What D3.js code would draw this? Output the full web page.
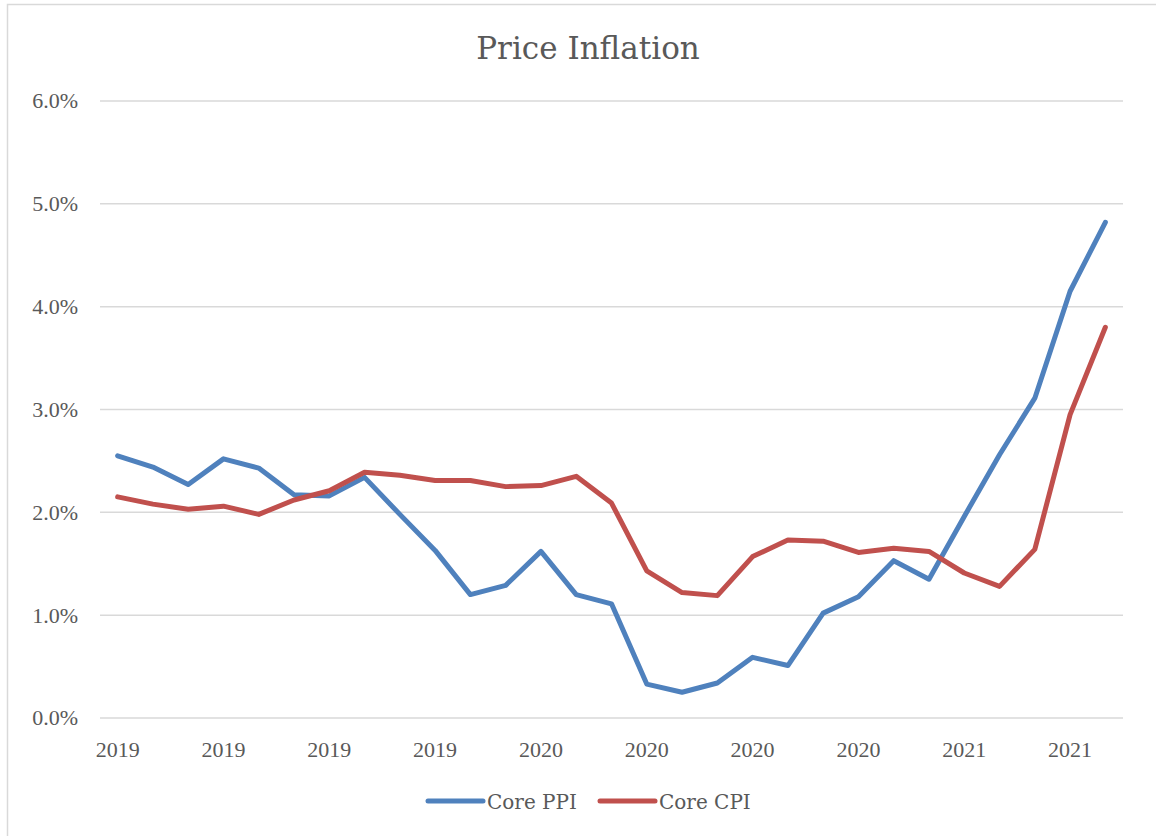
<!DOCTYPE html>
<html>
<head>
<meta charset="utf-8">
<script src="https://cdn.jsdelivr.net/npm/d3@7"></script>
<style>
  body { margin: 0; background: #fff; }
  text { fill: #595959; }
</style>
</head>
<body>
<div id="chart"></div>
<script>
const width = 1156;
const height = 836;

// monthly, Jan 2019 .. May 2021
const months = [
  "2019-01", "2019-02", "2019-03", "2019-04", "2019-05", "2019-06", "2019-07", "2019-08", "2019-09", "2019-10", "2019-11", "2019-12",
  "2020-01", "2020-02", "2020-03", "2020-04", "2020-05", "2020-06", "2020-07", "2020-08", "2020-09", "2020-10", "2020-11", "2020-12",
  "2021-01", "2021-02", "2021-03", "2021-04", "2021-05"
];
const corePPI = [2.55, 2.44, 2.27, 2.52, 2.43, 2.17, 2.16, 2.34, 1.98, 1.63, 1.20, 1.29, 1.62, 1.20, 1.11, 0.33, 0.25, 0.34, 0.59, 0.51, 1.02, 1.18, 1.53, 1.35, 1.96, 2.56, 3.11, 4.15, 4.82];
const coreCPI = [2.15, 2.08, 2.03, 2.06, 1.98, 2.12, 2.21, 2.39, 2.36, 2.31, 2.31, 2.25, 2.26, 2.35, 2.09, 1.43, 1.22, 1.19, 1.57, 1.73, 1.72, 1.61, 1.65, 1.62, 1.41, 1.28, 1.64, 2.95, 3.80];
const yTicks = [0, 1, 2, 3, 4, 5, 6];
const seriesNames = ["Core PPI", "Core CPI"];
const colors = ["#4F81BD", "#C0504D"];

const serif = "'DejaVu Serif', serif";
const tickFont = "'Liberation Serif', 'Times New Roman', serif";

const svg = d3.select("#chart")
  .append("svg")
  .attr("width", width)
  .attr("height", height);

// chart area border (runs off the right and bottom)
svg.append("rect")
  .attr("x", 7.5).attr("y", 4.5)
  .attr("width", 1170).attr("height", 850)
  .attr("fill", "none")
  .attr("stroke", "#D9D9D9")
  .attr("stroke-width", 1.5);

const x = d3.scalePoint()
  .domain(months)
  .range([100, 1123])
  .padding(0.5);

const y = d3.scaleLinear()
  .domain([0, 6])
  .range([718, 101]);

// gridlines
svg.append("g")
  .selectAll("line")
  .data(yTicks)
  .join("line")
  .attr("x1", 100)
  .attr("x2", 1123)
  .attr("y1", d => y(d))
  .attr("y2", d => y(d))
  .attr("stroke", "#D9D9D9")
  .attr("stroke-width", 1.5);

// y axis labels
svg.append("g")
  .selectAll("text")
  .data(yTicks)
  .join("text")
  .attr("x", 78)
  .attr("y", d => y(d))
  .attr("dy", "0.34em")
  .attr("text-anchor", "end")
  .style("font-family", tickFont)
  .style("font-size", "22px")
  .text(d => d3.format(".1f")(d) + "%");

// x axis labels, every third month shows the year
svg.append("g")
  .selectAll("text")
  .data(months.filter((m, i) => i % 3 === 0))
  .join("text")
  .attr("x", d => x(d))
  .attr("y", 757)
  .attr("text-anchor", "middle")
  .style("font-family", tickFont)
  .style("font-size", "22px")
  .text(d => d.slice(0, 4));

const line = d3.line()
  .x((d, i) => x(months[i]))
  .y(d => y(d));

[corePPI, coreCPI].forEach((values, k) => {
  svg.append("path")
    .datum(values)
    .attr("fill", "none")
    .attr("stroke", colors[k])
    .attr("stroke-width", 5)
    .attr("stroke-linejoin", "round")
    .attr("stroke-linecap", "round")
    .attr("d", line);
});

// title
svg.append("text")
  .attr("x", 588)
  .attr("y", 59)
  .attr("text-anchor", "middle")
  .style("font-family", serif)
  .style("font-size", "31px")
  .text("Price Inflation");

// legend
const legendX = [428, 600];
const legend = svg.append("g")
  .selectAll("g")
  .data(seriesNames)
  .join("g")
  .attr("transform", (d, i) => `translate(${legendX[i]},801)`);

legend.append("line")
  .attr("x1", 0).attr("x2", 55)
  .attr("stroke", (d, i) => colors[i])
  .attr("stroke-width", 5)
  .attr("stroke-linecap", "round");

legend.append("text")
  .attr("x", 59)
  .attr("y", 8)
  .style("font-family", serif)
  .style("font-size", "20px")
  .text(d => d);
</script>
</body>
</html>
